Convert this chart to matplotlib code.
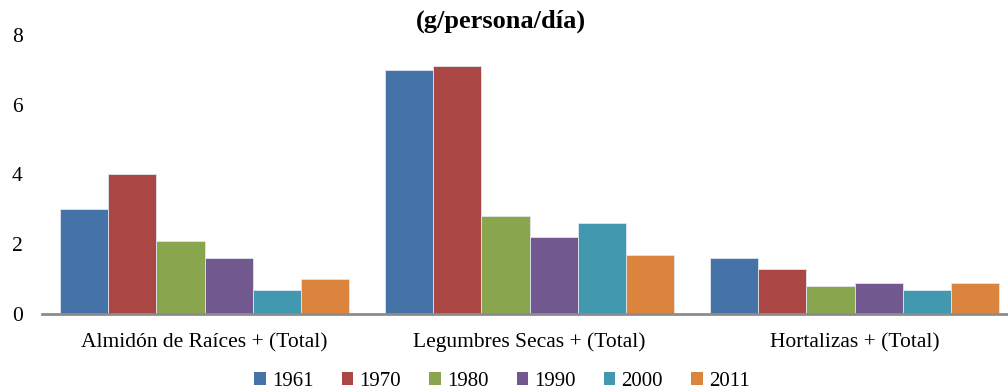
# Consumo por grupo de alimentos, barras agrupadas por año

import matplotlib.pyplot as plt
import numpy as np

categories = [
    "Almidón de Raíces + (Total)",
    "Legumbres Secas + (Total)",
    "Hortalizas + (Total)",
]
years = ["1961", "1970", "1980", "1990", "2000", "2011"]

# g/persona/día, una lista por año en el orden de categories
v1961 = [3.0, 7.0, 1.6]
v1970 = [4.0, 7.1, 1.3]
v1980 = [2.1, 2.8, 0.8]
v1990 = [1.6, 2.2, 0.9]
v2000 = [0.7, 2.6, 0.7]
v2011 = [1.0, 1.7, 0.9]
series = [v1961, v1970, v1980, v1990, v2000, v2011]

colors = ["#4572A7", "#AA4643", "#89A54E", "#71588F", "#4198AF", "#DB843D"]

plt.rcParams["font.family"] = ["Liberation Serif", "DejaVu Serif"]

fig = plt.figure(figsize=(10.08, 3.92), dpi=100)
W, H = 1008, 392
ax = fig.add_axes([42 / W, 78 / H, 975 / W, 279 / H])

x = np.arange(len(categories))
bar_w = 0.89 / len(years)
for i, (yr, vals) in enumerate(zip(years, series)):
    offs = (i - (len(years) - 1) / 2) * bar_w
    ax.bar(x + offs, vals, width=bar_w, color=colors[i], label=yr,
           edgecolor="#dfe6ee", linewidth=0.6)

ax.set_xlim(-0.5, 2.5)
ax.set_ylim(0, 8)
ax.set_yticks([0, 2, 4, 6, 8])
ax.set_xticks(x)
ax.set_xticklabels(categories)
ax.tick_params(axis="both", length=0, labelsize=15.5)
ax.tick_params(axis="x", pad=24)
ax.tick_params(axis="y", pad=14)
# same baseline for every category name
for lbl in ax.get_xticklabels():
    lbl.set_verticalalignment("baseline")

for side in ["top", "right", "left"]:
    ax.spines[side].set_visible(False)
ax.spines["bottom"].set_color("#8c8c8c")
ax.spines["bottom"].set_linewidth(2)

fig.text(501 / W, 1 - 21 / H, "(g/persona/día)", ha="center", va="center",
         fontsize=19, fontweight="bold")

leg = fig.legend(loc="center", bbox_to_anchor=(502 / W, 1 - 381 / H), ncol=6,
                 frameon=False, fontsize=15, handlelength=0.55,
                 handleheight=0.6, handletextpad=0.3, columnspacing=1.35)
for h in leg.legend_handles:
    h.set_edgecolor("none")

fig.savefig("out.png", dpi=100)
